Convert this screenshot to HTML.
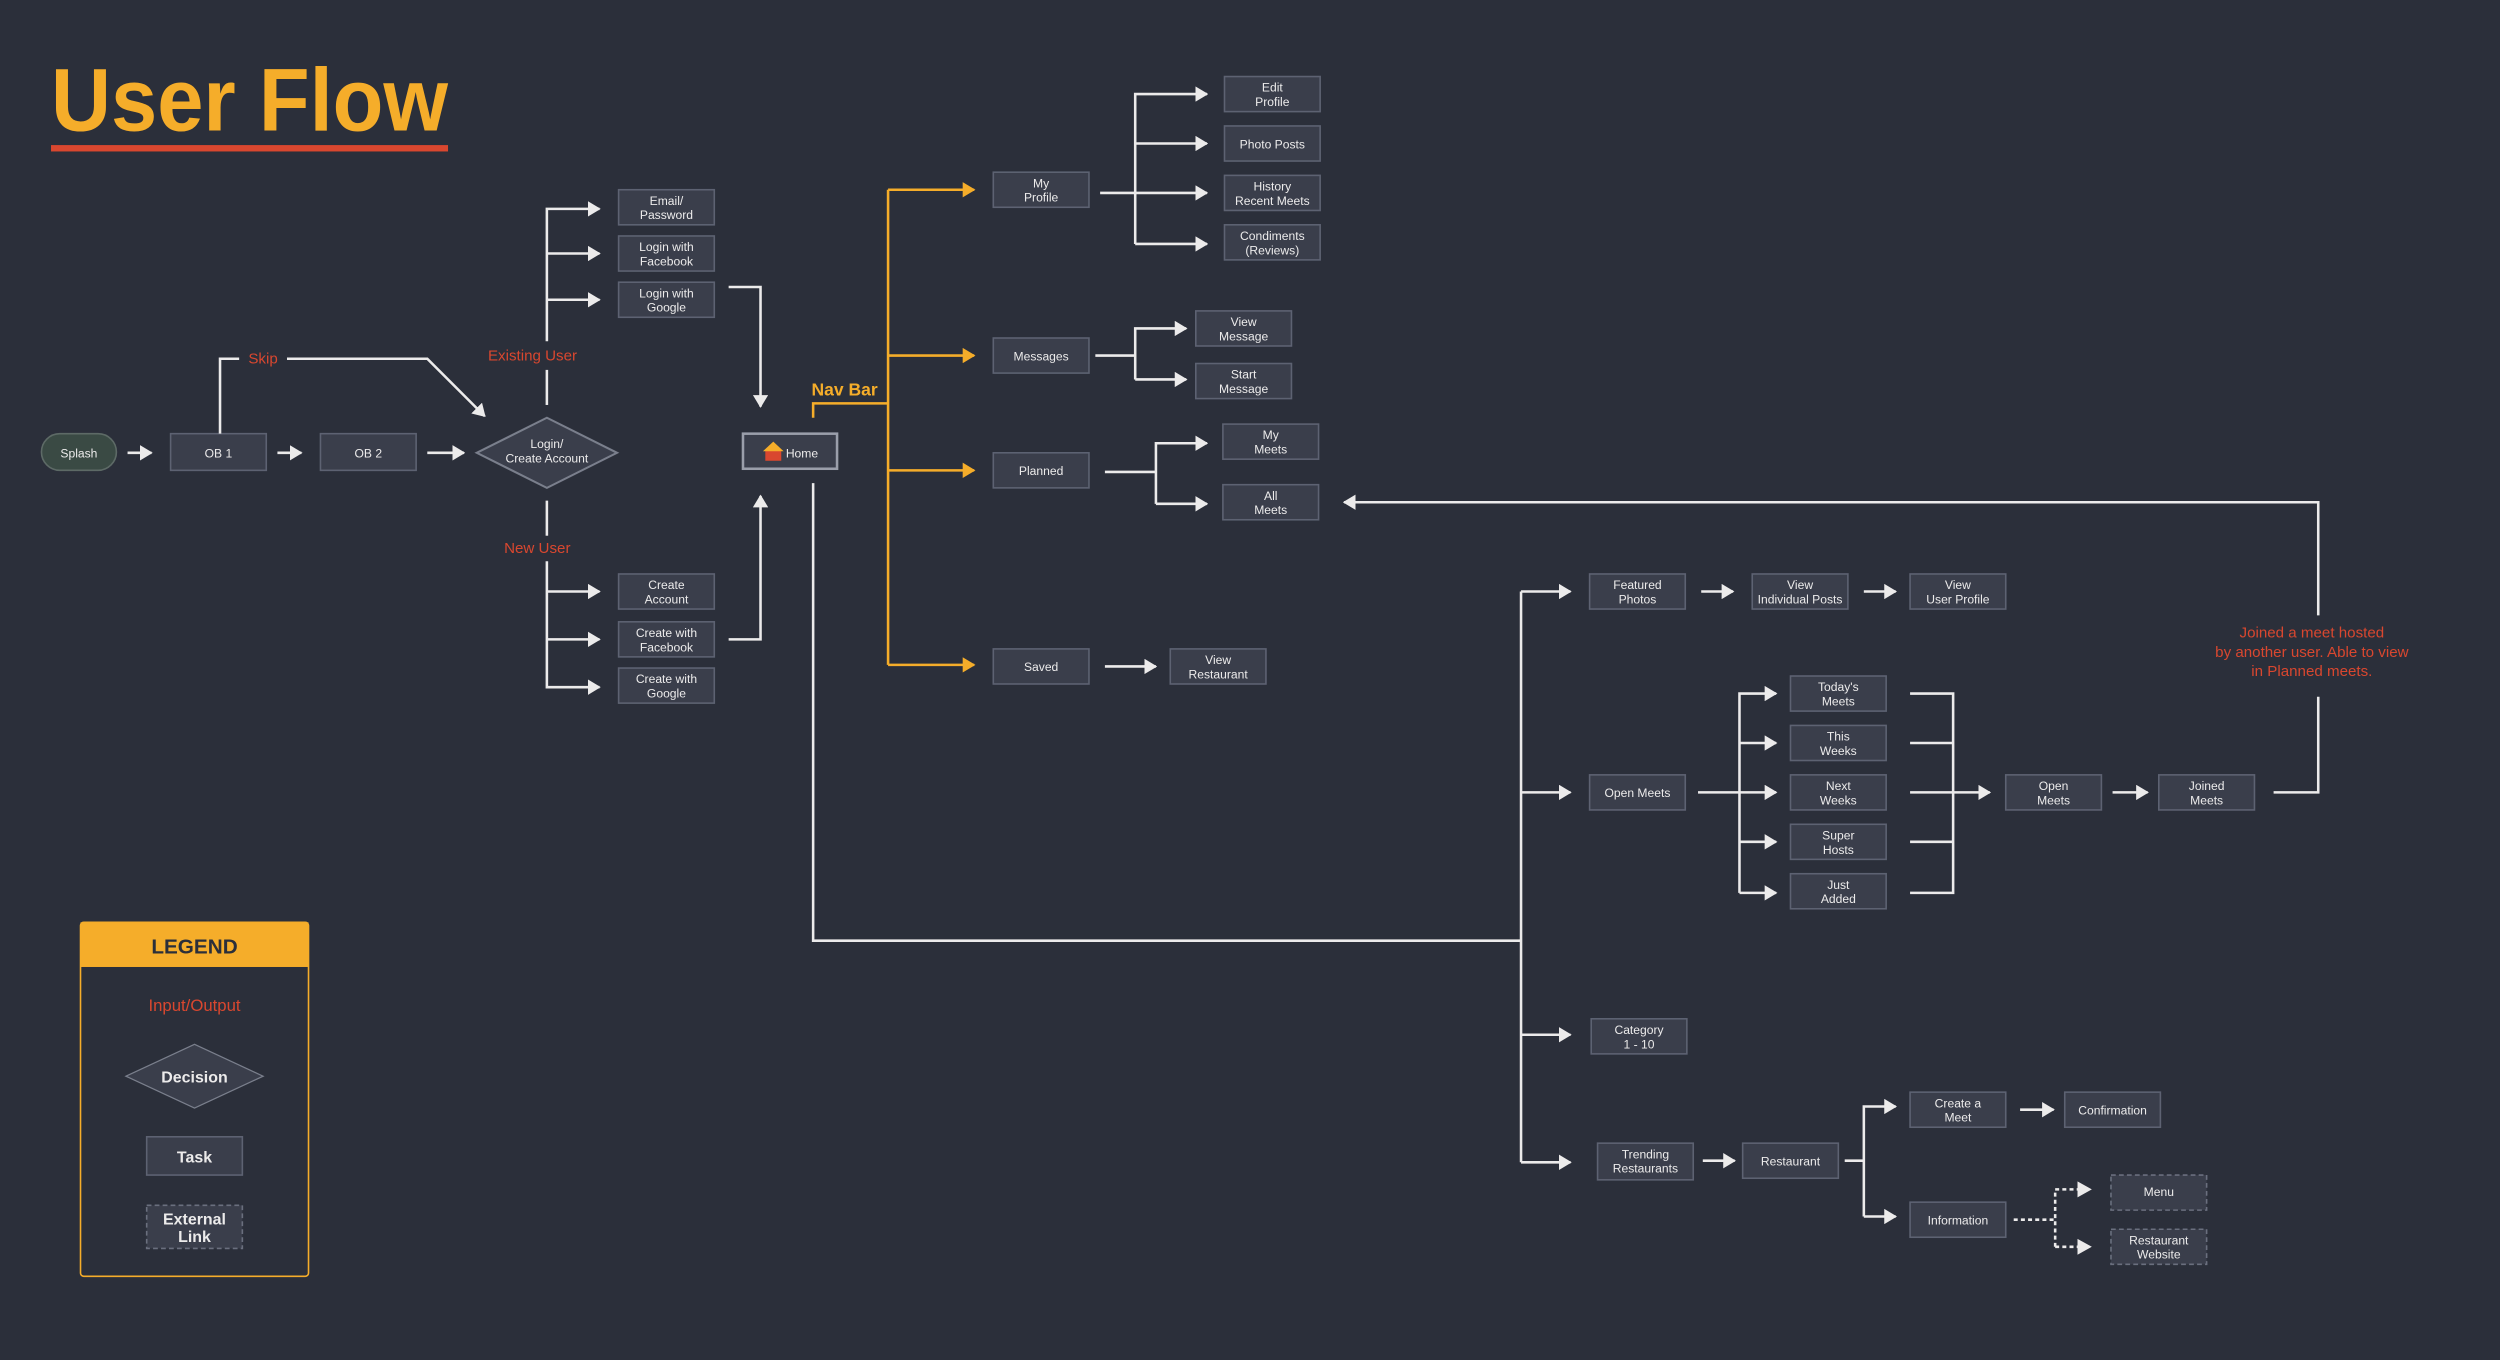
<!DOCTYPE html>
<html><head><meta charset="utf-8"><style>
html,body{margin:0;padding:0;background:#2b2f3a;}
svg{display:block}
text{font-family:"Liberation Sans",sans-serif;}
.b{fill:#3a3e4b;stroke:#5d6272;stroke-width:1}
.d{fill:#3a3e4b;stroke:#6a6f7e;stroke-width:1;stroke-dasharray:3 2}
.t{fill:#ecebeb;font-size:7.6px;text-anchor:middle}
.w{fill:none;stroke:#ecebeb;stroke-width:1.6}
.o{fill:none;stroke:#f5ad2a;stroke-width:1.6}
.dot{fill:none;stroke:#ecebeb;stroke-width:1.6;stroke-dasharray:2.5 2}
.r{fill:#d9472f;font-size:9.5px;text-anchor:middle}
</style></head><body>
<svg width="2500" height="1360" viewBox="0 0 1568 853" preserveAspectRatio="none" xmlns="http://www.w3.org/2000/svg">
<defs>
<marker id="aw" markerWidth="5" markerHeight="6" refX="4.5" refY="3" orient="auto" markerUnits="strokeWidth"><path d="M0,0 L5,3 L0,6 z" fill="#ecebeb"/></marker>
<marker id="ao" markerWidth="5" markerHeight="6" refX="4.5" refY="3" orient="auto" markerUnits="strokeWidth"><path d="M0,0 L5,3 L0,6 z" fill="#f5ad2a"/></marker>
</defs>
<rect width="1568" height="853" fill="#2b2f3a"/>
<text x="32" y="82" textLength="249" lengthAdjust="spacingAndGlyphs" style="font-size:56px;font-weight:bold;fill:#f5ad2a;">User Flow</text>
<rect x="32" y="91" width="249" height="4" fill="#d9472f"/>

<!-- left nodes -->
<rect x="26" y="272" width="47" height="23" rx="11.5" fill="#3a4a44" stroke="#5d6a66"/>
<text class="t" x="49.5" y="287">Splash</text>
<rect class="b" x="107" y="272" width="60" height="23"/><text class="t" x="137" y="287">OB 1</text>
<rect class="b" x="201" y="272" width="60" height="23"/><text class="t" x="231" y="287">OB 2</text>
<polygon points="299,284 343,262 387,284 343,306" fill="#3a3e4b" stroke="#7a7f8c" stroke-width="1.3"/>
<text class="t" x="343" y="281">Login/</text><text class="t" x="343" y="290">Create Account</text>

<g>
<rect class="b" x="388" y="119" width="60" height="22"/><text class="t" x="418" y="128.5">Email/</text><text class="t" x="418" y="137.5">Password</text>
<rect class="b" x="388" y="148" width="60" height="22"/><text class="t" x="418" y="157.5">Login with</text><text class="t" x="418" y="166.5">Facebook</text>
<rect class="b" x="388" y="177" width="60" height="22"/><text class="t" x="418" y="186.5">Login with</text><text class="t" x="418" y="195.5">Google</text>
<rect class="b" x="388" y="360" width="60" height="22"/><text class="t" x="418" y="369.5">Create</text><text class="t" x="418" y="378.5">Account</text>
<rect class="b" x="388" y="390" width="60" height="22"/><text class="t" x="418" y="399.5">Create with</text><text class="t" x="418" y="408.5">Facebook</text>
<rect class="b" x="388" y="419" width="60" height="22"/><text class="t" x="418" y="428.5">Create with</text><text class="t" x="418" y="437.5">Google</text>
</g>

<rect x="466" y="272" width="59" height="22" fill="#3a3e4b" stroke="#9a9eaa" stroke-width="1.6"/>
<rect x="480" y="282" width="10" height="7" fill="#d9472f"/><polygon points="478.5,283 485,277 491.5,283" fill="#f5ad2a"/>
<text class="t" x="503" y="287">Home</text>

<!-- left connectors -->
<line class="w" x1="80" y1="284" x2="95" y2="284" marker-end="url(#aw)"/>
<line class="w" x1="174" y1="284" x2="189" y2="284" marker-end="url(#aw)"/>
<line class="w" x1="268" y1="284" x2="291" y2="284" marker-end="url(#aw)"/>
<polyline class="w" points="138,272 138,225 150,225"/>
<text class="r" x="165" y="228">Skip</text>
<polyline class="w" points="180,225 268,225 304,261" marker-end="url(#aw)"/>
<text class="r" x="334" y="226">Existing User</text>
<polyline class="w" points="343,254 343,232"/>
<polyline class="w" points="343,214 343,131 376,131" marker-end="url(#aw)"/>
<line class="w" x1="343" y1="159" x2="376" y2="159" marker-end="url(#aw)"/>
<line class="w" x1="343" y1="188" x2="376" y2="188" marker-end="url(#aw)"/>
<line class="w" x1="343" y1="314" x2="343" y2="336"/>
<text class="r" x="337" y="347">New User</text>
<polyline class="w" points="343,352 343,431 376,431" marker-end="url(#aw)"/>
<line class="w" x1="343" y1="371" x2="376" y2="371" marker-end="url(#aw)"/>
<line class="w" x1="343" y1="401" x2="376" y2="401" marker-end="url(#aw)"/>
<polyline class="w" points="457,180 477,180 477,255" marker-end="url(#aw)"/>
<polyline class="w" points="457,401 477,401 477,311" marker-end="url(#aw)"/>

<!-- nav bar -->
<text x="509" y="248" style="font-size:11px;font-weight:bold;fill:#f5ad2a">Nav Bar</text>
<polyline class="o" points="510,262 510,253 557,253"/>
<polyline class="o" points="557,119 557,417"/>
<line class="o" x1="557" y1="119" x2="611" y2="119" marker-end="url(#ao)"/>
<line class="o" x1="557" y1="223" x2="611" y2="223" marker-end="url(#ao)"/>
<line class="o" x1="557" y1="295" x2="611" y2="295" marker-end="url(#ao)"/>
<line class="o" x1="557" y1="417" x2="611" y2="417" marker-end="url(#ao)"/>

<rect class="b" x="623" y="108" width="60" height="22"/><text class="t" x="653" y="117.5">My</text><text class="t" x="653" y="126.5">Profile</text>
<rect class="b" x="623" y="212" width="60" height="22"/><text class="t" x="653" y="226">Messages</text>
<rect class="b" x="623" y="284" width="60" height="22"/><text class="t" x="653" y="298">Planned</text>
<rect class="b" x="623" y="407" width="60" height="22"/><text class="t" x="653" y="421">Saved</text>

<rect class="b" x="768" y="48" width="60" height="22"/><text class="t" x="798" y="57.5">Edit</text><text class="t" x="798" y="66.5">Profile</text>
<rect class="b" x="768" y="79" width="60" height="22"/><text class="t" x="798" y="93">Photo Posts</text>
<rect class="b" x="768" y="110" width="60" height="22"/><text class="t" x="798" y="119.5">History</text><text class="t" x="798" y="128.5">Recent Meets</text>
<rect class="b" x="768" y="141" width="60" height="22"/><text class="t" x="798" y="150.5">Condiments</text><text class="t" x="798" y="159.5">(Reviews)</text>
<rect class="b" x="750" y="195" width="60" height="22"/><text class="t" x="780" y="204.5">View</text><text class="t" x="780" y="213.5">Message</text>
<rect class="b" x="750" y="228" width="60" height="22"/><text class="t" x="780" y="237.5">Start</text><text class="t" x="780" y="246.5">Message</text>
<rect class="b" x="767" y="266" width="60" height="22"/><text class="t" x="797" y="275.5">My</text><text class="t" x="797" y="284.5">Meets</text>
<rect class="b" x="767" y="304" width="60" height="22"/><text class="t" x="797" y="313.5">All</text><text class="t" x="797" y="322.5">Meets</text>
<rect class="b" x="734" y="407" width="60" height="22"/><text class="t" x="764" y="416.5">View</text><text class="t" x="764" y="425.5">Restaurant</text>

<line class="w" x1="690" y1="121" x2="712" y2="121"/>
<polyline class="w" points="712,153 712,59 757,59" marker-end="url(#aw)"/>
<line class="w" x1="712" y1="90" x2="757" y2="90" marker-end="url(#aw)"/>
<line class="w" x1="712" y1="121" x2="757" y2="121" marker-end="url(#aw)"/>
<line class="w" x1="712" y1="153" x2="757" y2="153" marker-end="url(#aw)"/>
<line class="w" x1="687" y1="223" x2="712" y2="223"/>
<polyline class="w" points="712,238 712,206 744,206" marker-end="url(#aw)"/>
<line class="w" x1="712" y1="238" x2="744" y2="238" marker-end="url(#aw)"/>
<line class="w" x1="693" y1="296" x2="725" y2="296"/>
<polyline class="w" points="725,316 725,278 757,278" marker-end="url(#aw)"/>
<line class="w" x1="725" y1="316" x2="757" y2="316" marker-end="url(#aw)"/>
<line class="w" x1="693" y1="418" x2="725" y2="418" marker-end="url(#aw)"/>

<!-- home down -->
<polyline class="w" points="510,303 510,590 954,590"/>
<polyline class="w" points="954,371 954,729"/>
<line class="w" x1="954" y1="371" x2="985" y2="371" marker-end="url(#aw)"/>
<line class="w" x1="954" y1="497" x2="985" y2="497" marker-end="url(#aw)"/>
<line class="w" x1="954" y1="649" x2="985" y2="649" marker-end="url(#aw)"/>
<line class="w" x1="954" y1="729" x2="985" y2="729" marker-end="url(#aw)"/>

<rect class="b" x="997" y="360" width="60" height="22"/><text class="t" x="1027" y="369.5">Featured</text><text class="t" x="1027" y="378.5">Photos</text>
<rect class="b" x="1099" y="360" width="60" height="22"/><text class="t" x="1129" y="369.5">View</text><text class="t" x="1129" y="378.5">Individual Posts</text>
<rect class="b" x="1198" y="360" width="60" height="22"/><text class="t" x="1228" y="369.5">View</text><text class="t" x="1228" y="378.5">User Profile</text>
<line class="w" x1="1067" y1="371" x2="1087" y2="371" marker-end="url(#aw)"/>
<line class="w" x1="1169" y1="371" x2="1189" y2="371" marker-end="url(#aw)"/>

<rect class="b" x="997" y="486" width="60" height="22"/><text class="t" x="1027" y="500">Open Meets</text>
<rect class="b" x="1123" y="424" width="60" height="22"/><text class="t" x="1153" y="433.5">Today's</text><text class="t" x="1153" y="442.5">Meets</text>
<rect class="b" x="1123" y="455" width="60" height="22"/><text class="t" x="1153" y="464.5">This</text><text class="t" x="1153" y="473.5">Weeks</text>
<rect class="b" x="1123" y="486" width="60" height="22"/><text class="t" x="1153" y="495.5">Next</text><text class="t" x="1153" y="504.5">Weeks</text>
<rect class="b" x="1123" y="517" width="60" height="22"/><text class="t" x="1153" y="526.5">Super</text><text class="t" x="1153" y="535.5">Hosts</text>
<rect class="b" x="1123" y="548" width="60" height="22"/><text class="t" x="1153" y="557.5">Just</text><text class="t" x="1153" y="566.5">Added</text>
<rect class="b" x="1258" y="486" width="60" height="22"/><text class="t" x="1288" y="495.5">Open</text><text class="t" x="1288" y="504.5">Meets</text>
<rect class="b" x="1354" y="486" width="60" height="22"/><text class="t" x="1384" y="495.5">Joined</text><text class="t" x="1384" y="504.5">Meets</text>

<line class="w" x1="1065" y1="497" x2="1091" y2="497"/>
<polyline class="w" points="1091,560 1091,435 1114,435" marker-end="url(#aw)"/>
<line class="w" x1="1091" y1="466" x2="1114" y2="466" marker-end="url(#aw)"/>
<line class="w" x1="1091" y1="497" x2="1114" y2="497" marker-end="url(#aw)"/>
<line class="w" x1="1091" y1="528" x2="1114" y2="528" marker-end="url(#aw)"/>
<line class="w" x1="1091" y1="560" x2="1114" y2="560" marker-end="url(#aw)"/>
<polyline class="w" points="1198,435 1225,435 1225,560 1198,560"/>
<line class="w" x1="1198" y1="466" x2="1225" y2="466"/>
<line class="w" x1="1198" y1="497" x2="1248" y2="497" marker-end="url(#aw)"/>
<line class="w" x1="1198" y1="528" x2="1225" y2="528"/>
<line class="w" x1="1325" y1="497" x2="1347" y2="497" marker-end="url(#aw)"/>
<polyline class="w" points="1426,497 1454,497 1454,437"/>
<polyline class="w" points="1454,386 1454,315 843,315" marker-end="url(#aw)"/>
<text class="r" x="1450" y="400">Joined a meet hosted</text>
<text class="r" x="1450" y="412">by another user. Able to view</text>
<text class="r" x="1450" y="424">in Planned meets.</text>

<rect class="b" x="998" y="639" width="60" height="22"/><text class="t" x="1028" y="648.5">Category</text><text class="t" x="1028" y="657.5">1 - 10</text>
<rect class="b" x="1002" y="717" width="60" height="23"/><text class="t" x="1032" y="726.5">Trending</text><text class="t" x="1032" y="735.5">Restaurants</text>
<rect class="b" x="1093" y="717" width="60" height="22"/><text class="t" x="1123" y="731">Restaurant</text>
<rect class="b" x="1198" y="685" width="60" height="22"/><text class="t" x="1228" y="694.5">Create a</text><text class="t" x="1228" y="703.5">Meet</text>
<rect class="b" x="1295" y="685" width="60" height="22"/><text class="t" x="1325" y="699">Confirmation</text>
<rect class="b" x="1198" y="754" width="60" height="22"/><text class="t" x="1228" y="768">Information</text>
<rect class="d" x="1324" y="737" width="60" height="22"/><text class="t" x="1354" y="750">Menu</text>
<rect class="d" x="1324" y="771" width="60" height="22"/><text class="t" x="1354" y="780.5">Restaurant</text><text class="t" x="1354" y="789.5">Website</text>

<line class="w" x1="1068" y1="728" x2="1088" y2="728" marker-end="url(#aw)"/>
<line class="w" x1="1157" y1="728" x2="1169" y2="728"/>
<polyline class="w" points="1169,763 1169,694 1189,694" marker-end="url(#aw)"/>
<line class="w" x1="1169" y1="763" x2="1189" y2="763" marker-end="url(#aw)"/>
<line class="w" x1="1267" y1="696" x2="1288" y2="696" marker-end="url(#aw)"/>
<line class="dot" x1="1263" y1="765" x2="1289" y2="765"/>
<polyline class="dot" points="1289,782 1289,746 1303,746"/>
<line class="dot" x1="1289" y1="782" x2="1303" y2="782"/>
<path d="M1303,741 L1312,746 L1303,751 z" fill="#ecebeb"/>
<path d="M1303,777 L1312,782 L1303,787 z" fill="#ecebeb"/>

<!-- legend -->
<rect x="50.5" y="578.5" width="143" height="222" rx="2" fill="#2b2f3a" stroke="#f5ad2a" stroke-width="1"/>
<rect x="50.5" y="578.5" width="143" height="28" fill="#f5ad2a"/>
<text x="122" y="598" style="font-size:13px;font-weight:bold;fill:#2b2f3a;text-anchor:middle">LEGEND</text>
<text x="122" y="634" style="font-size:10.5px;fill:#d9472f;text-anchor:middle">Input/Output</text>
<polygon points="79,675 122,655 165,675 122,695" fill="#3a3e4b" stroke="#7a7f8c" stroke-width="0.8"/>
<text x="122" y="679" style="font-size:10px;font-weight:bold;fill:#ecebeb;text-anchor:middle">Decision</text>
<rect class="b" x="92" y="713" width="60" height="24"/>
<text x="122" y="729" style="font-size:10px;font-weight:bold;fill:#ecebeb;text-anchor:middle">Task</text>
<rect class="d" x="92" y="756" width="60" height="27"/>
<text x="122" y="768" style="font-size:10px;font-weight:bold;fill:#ecebeb;text-anchor:middle">External</text>
<text x="122" y="779" style="font-size:10px;font-weight:bold;fill:#ecebeb;text-anchor:middle">Link</text>
</svg>
</body></html>
